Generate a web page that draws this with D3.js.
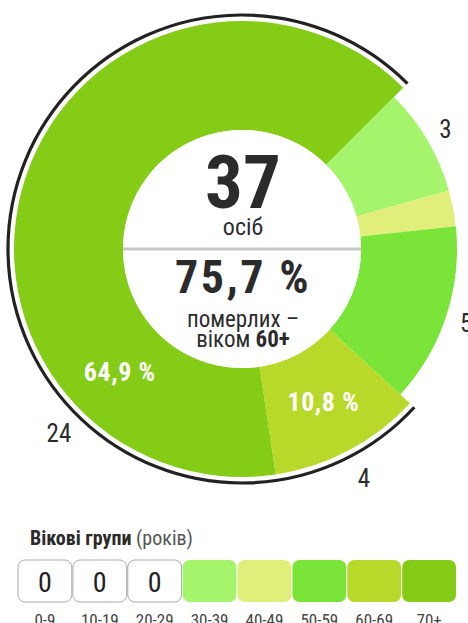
<!DOCTYPE html>
<html>
<head>
<meta charset="utf-8">
<script src="https://cdn.jsdelivr.net/npm/d3@7"></script>
<style>
  body { margin: 0; background: #fff; }
  text { font-family: "Roboto Condensed", "Roboto", sans-serif; }
</style>
</head>
<body>
<script>
// data
var ageGroups = ['0-9', '10-19', '20-29', '30-39', '40-49', '50-59', '60-69', '70+']
var deaths = [0, 0, 0, 3, 1, 5, 4, 24]
var groupColors = ['#ffffff', '#ffffff', '#ffffff', '#a4f46c', '#e2ee7a', '#7ae438', '#b8d82a', '#84cc16']
var olderGroups = ['60-69', '70+']   // the 60+ bracket
var centerTitle = ['осіб', 'померлих –', 'віком ']

const dark = '#2b2b2b'
var width = 468, height = 623
var cx = 242, cy = 249
var innerRadius = 119
var outerRadius = 215
var outerRadiusOld = 228
var startAngle = Math.PI / 4

var total = d3.sum(deaths)
var olderTotal = d3.sum(deaths.filter((d, i) => olderGroups.includes(ageGroups[i])))

var pieData = ageGroups.map((a, i) => ({age: a, value: deaths[i], color: groupColors[i]}))
    .filter(d => d.value > 0)

const pie = d3.pie()
    .sort(null)
    .value(d => d.value)
    .startAngle(startAngle)
    .endAngle(startAngle + Math.PI * 2)

const arcs = pie(pieData)

const fmt = v => d3.format('.1f')(v).replace('.', ',') + ' %'

const svg = d3.select('body').append('svg')
    .attr('width', width)
    .attr('height', height)

const chartGroup = svg.append('g').attr('transform', `translate(${cx}, ${cy})`)

const isOld = d => olderGroups.includes(d.data.age)
const rOuter = d => isOld(d) ? outerRadiusOld : outerRadius

const sliceArc = d3.arc()
    .innerRadius(innerRadius)
    .outerRadius(rOuter)

chartGroup.selectAll('path.slice')
    .data(arcs)
    .join('path')
    .attr('class', 'slice')
    .attr('d', sliceArc)
    .attr('fill', d => d.data.color)

// black bracket around 60+
var oldArcs = arcs.filter(isOld)
const bracketArc = d3.arc()
    .innerRadius(234)
    .outerRadius(234)
    .startAngle(d3.min(oldArcs, d => d.startAngle))
    .endAngle(d3.max(oldArcs, d => d.endAngle))

chartGroup.append('path')
    .attr('d', bracketArc())
    .attr('fill', 'none')
    .attr('stroke', '#222')
    .attr('stroke-width', 3.2)

// label angle: middle of slice, but not too far round for the big one
const labelAngle = d => d.startAngle + Math.min((d.endAngle - d.startAngle) / 2, 0.93)
const polar = (a, r) => [Math.sin(a) * r, -Math.cos(a) * r]

chartGroup.selectAll('text.count')
    .data(arcs)
    .join('text')
    .attr('class', 'count')
    .attr('x', d => polar(labelAngle(d), isOld(d) ? 260 : 236)[0])
    .attr('y', d => polar(labelAngle(d), isOld(d) ? 260 : 236)[1])
    .attr('dy', '0.35em')
    .attr('text-anchor', 'middle')
    .attr('font-size', 25)
    .attr('fill', dark)
    .text(d => d.data.value)

chartGroup.selectAll('text.pct')
    .data(oldArcs)
    .join('text')
    .attr('class', 'pct')
    .attr('x', d => polar(labelAngle(d), (innerRadius + outerRadiusOld) / 2)[0])
    .attr('y', d => polar(labelAngle(d), (innerRadius + outerRadiusOld) / 2)[1])
    .attr('dy', '0.35em')
    .attr('text-anchor', 'middle')
    .attr('font-size', 26)
    .attr('font-weight', 'bold')
    .attr('letter-spacing', 0.6)
    .attr('fill', '#fff')
    .text(d => fmt(d.data.value / total * 100))

// centre
chartGroup.append('circle').attr('r', innerRadius).attr('fill', '#fff')

chartGroup.append('line')
    .attr('x1', -innerRadius).attr('x2', innerRadius)
    .attr('y1', 0).attr('y2', 0)
    .attr('stroke', '#c8c8c8')
    .attr('stroke-width', 3)

chartGroup.append('text')
    .attr('x', 1).attr('y', -41)
    .attr('text-anchor', 'middle')
    .attr('font-size', 75)
    .attr('font-weight', 'bold')
    .attr('fill', dark)
    .text(total)

chartGroup.append('text')
    .attr('x', 1).attr('y', -14)
    .attr('text-anchor', 'middle')
    .attr('font-size', 24)
    .attr('fill', dark)
    .text(centerTitle[0])

chartGroup.append('text')
    .attr('x', 1).attr('y', 44)
    .attr('text-anchor', 'middle')
    .attr('font-size', 46)
    .attr('font-weight', 'bold')
    .attr('letter-spacing', 2.5)
    .attr('fill', dark)
    .text(fmt(olderTotal / total * 100))

chartGroup.append('text')
    .attr('x', 1).attr('y', 78)
    .attr('text-anchor', 'middle')
    .attr('font-size', 23)
    .attr('fill', dark)
    .text(centerTitle[1])

const ageLine = chartGroup.append('text')
    .attr('x', 1).attr('y', 98)
    .attr('text-anchor', 'middle')
    .attr('font-size', 23)
    .attr('fill', dark)
ageLine.append('tspan').text(centerTitle[2])
ageLine.append('tspan').attr('font-weight', 'bold').text('60+')

// legend
const legend = svg.append('g')

const legendTitle = legend.append('text')
    .attr('x', 30).attr('y', 545)
    .attr('font-size', 20)
    .attr('fill', dark)
legendTitle.append('tspan').attr('font-weight', 'bold').text('Вікові групи ')
legendTitle.append('tspan').attr('fill', '#555').text('(років)')

const xBand = d3.scaleBand()
    .domain(ageGroups)
    .range([18, 456])
    .paddingInner(0.02)

legend.selectAll('rect.box')
    .data(ageGroups)
    .join('rect')
    .attr('class', 'box')
    .attr('x', d => xBand(d))
    .attr('y', 560)
    .attr('width', xBand.bandwidth())
    .attr('height', 42)
    .attr('rx', 7)
    .attr('fill', (d, i) => groupColors[i])
    .attr('stroke', (d, i) => deaths[i] === 0 ? '#aaa' : 'none')

legend.selectAll('text.zero')
    .data(ageGroups.filter((d, i) => deaths[i] === 0))
    .join('text')
    .attr('class', 'zero')
    .attr('x', d => xBand(d) + xBand.bandwidth() / 2)
    .attr('y', 592)
    .attr('text-anchor', 'middle')
    .attr('font-size', 28)
    .attr('fill', '#222')
    .text(d => deaths[ageGroups.indexOf(d)])

legend.selectAll('text.age')
    .data(ageGroups)
    .join('text')
    .attr('class', 'age')
    .attr('x', d => xBand(d) + xBand.bandwidth() / 2)
    .attr('y', 626)
    .attr('text-anchor', 'middle')
    .attr('font-size', 17)
    .attr('fill', '#444')
    .text(d => d)
</script>
</body>
</html>
